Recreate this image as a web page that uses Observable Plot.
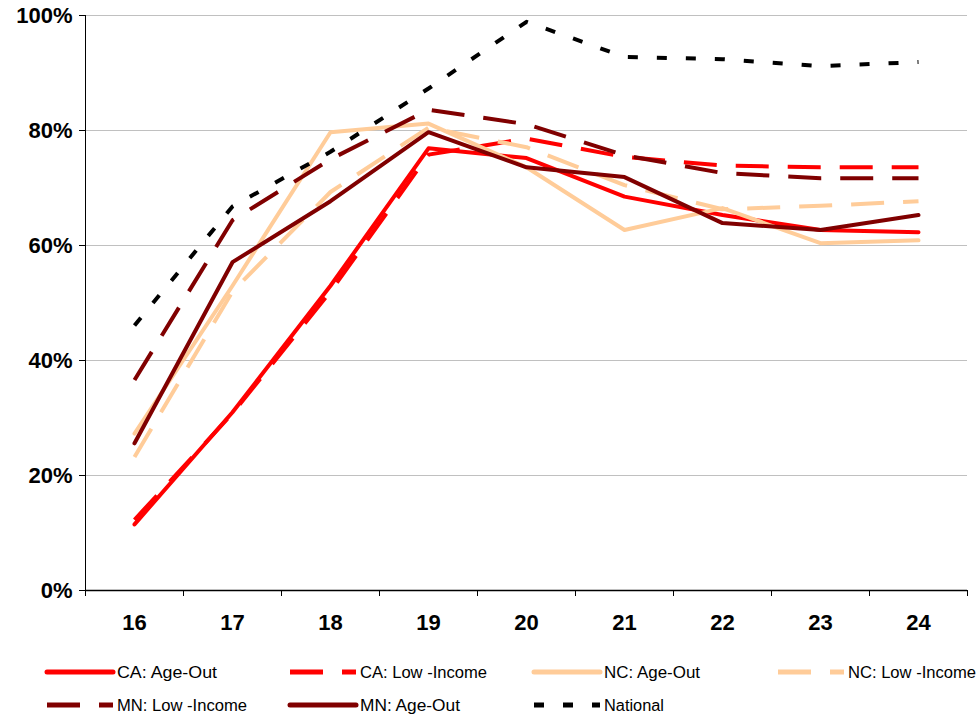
<!DOCTYPE html>
<html>
<head>
<meta charset="utf-8">
<script src="https://cdn.jsdelivr.net/npm/d3@7"></script>
<script src="https://cdn.jsdelivr.net/npm/@observablehq/plot@0.6"></script>
<style>
  html, body { margin: 0; padding: 0; background: #fff; }
  #chart svg { display: block; }
  #legend { display: block; }
</style>
</head>
<body>
<div id="chart"></div>
<svg id="legend" width="978" height="65"></svg>
<script>
// ---- data (percent) ----
const ages = [16, 17, 18, 19, 20, 21, 22, 23, 24];
const caAgeOut   = [11.5, 31.0, 53.0, 76.9, 75.2, 68.5, 65.3, 62.7, 62.3];
const caLowInc   = [12.3, 30.8, 52.0, 75.8, 78.6, 75.4, 73.9, 73.6, 73.6];
const ncAgeOut   = [27.3, 53.0, 79.7, 81.2, 73.6, 62.7, 66.5, 60.4, 60.9];
const ncLowInc   = [23.2, 52.0, 69.3, 80.5, 77.1, 70.5, 66.3, 66.9, 67.7];
const mnLowInc   = [36.6, 64.4, 75.0, 83.6, 81.1, 75.7, 72.6, 71.7, 71.7];
const mnAgeOut   = [25.6, 57.1, 67.7, 79.7, 73.6, 71.9, 63.9, 62.7, 65.3];
const national   = [46.1, 66.8, 76.3, 87.3, 98.9, 92.8, 92.4, 91.2, 91.9];
const yTicks = [0, 0.2, 0.4, 0.6, 0.8, 1.0];
const seriesNames = ["CA: Age-Out", "CA: Low -Income", "NC: Age-Out", "NC: Low -Income", "MN: Low -Income", "MN: Age-Out", "National"];

// ---- styles ----
const styles = {
  "CA: Age-Out":     {stroke: "#ff0000", dash: null},
  "CA: Low -Income": {stroke: "#ff0000", dash: "33 19"},
  "NC: Age-Out":     {stroke: "#ffcc99", dash: null},
  "NC: Low -Income": {stroke: "#ffcc99", dash: "33 19"},
  "MN: Low -Income": {stroke: "#800000", dash: "33 19"},
  "MN: Age-Out":     {stroke: "#800000", dash: null},
  "National":        {stroke: "#000000", dash: "10 19"}
};
const seriesValues = [caAgeOut, caLowInc, ncAgeOut, ncLowInc, mnLowInc, mnAgeOut, national];
const rows = seriesNames.map((name, i) => ages.map((a, j) => ({series: name, age: a, value: seriesValues[i][j] / 100})));

const boundaries = ages.map(a => a - 0.5).concat([ages[ages.length - 1] + 0.5]);

const lineMarks = rows.map((data, i) => {
  const s = styles[seriesNames[i]];
  return Plot.line(data, {
    x: "age", y: "value",
    stroke: s.stroke,
    strokeWidth: 4,
    strokeDasharray: s.dash || undefined,
    strokeLinecap: s.dash ? "butt" : "round",
    strokeLinejoin: "round"
  });
});

const chart = Plot.plot({
  width: 978,
  height: 650,
  marginTop: 15,
  marginBottom: 60,
  marginLeft: 85,
  marginRight: 11,
  style: {fontFamily: "'Liberation Sans', Arial, sans-serif", fontSize: "22px", fontWeight: "bold", color: "#000", background: "#fff"},
  x: {type: "linear", domain: [boundaries[0], boundaries[boundaries.length - 1]]},
  y: {domain: [0, 1]},
  marks: [
    Plot.gridY(yTicks.filter(d => d > 0), {stroke: "#c0c0c0", strokeOpacity: 1, strokeWidth: 1}),
    Plot.axisY(yTicks, {tickFormat: d3.format(".0%"), tickSize: 6, tickPadding: 7, label: null, fontSize: 22, fontWeight: "bold", stroke: "#000"}),
    Plot.axisX(boundaries, {tickFormat: () => "", tickSize: 6, label: null, stroke: "#000"}),
    Plot.axisX(ages, {tickFormat: d => String(d), tickSize: 0, tickPadding: 24, label: null, fontSize: 22, fontWeight: "bold"}),
    Plot.ruleX([boundaries[0]], {stroke: "#000", strokeWidth: 1}),
    Plot.ruleY([0], {stroke: "#000", strokeWidth: 1.5}),
    ...lineMarks
  ]
});
document.getElementById("chart").appendChild(chart);

// ---- legend ----
const legendLayout = {
  cols: [47, 290, 534, 778], rowsY: [22, 55], swatchLen: 66, textGap: 70,
  textWidths: {"CA: Age-Out": 100, "CA: Low -Income": 127, "NC: Age-Out": 96, "NC: Low -Income": 128, "MN: Low -Income": 130, "MN: Age-Out": 100, "National": 60}
};
const legend = d3.select("#legend");
seriesNames.forEach((name, i) => {
  const s = styles[name];
  const col = i % 4, row = Math.floor(i / 4);
  const x0 = legendLayout.cols[col], y0 = legendLayout.rowsY[row];
  legend.append("line")
    .attr("x1", x0).attr("x2", x0 + legendLayout.swatchLen)
    .attr("y1", y0).attr("y2", y0)
    .attr("stroke", s.stroke)
    .attr("stroke-width", 5)
    .attr("stroke-linecap", s.dash ? "butt" : "round")
    .attr("stroke-dasharray", s.dash || null);
  legend.append("text")
    .attr("x", x0 + legendLayout.textGap)
    .attr("y", y0)
    .attr("dy", "0.36em")
    .attr("font-family", "'Liberation Sans', Arial, sans-serif")
    .attr("font-size", 16)
    .attr("fill", "#000")
    .attr("textLength", legendLayout.textWidths[name])
    .attr("lengthAdjust", "spacingAndGlyphs")
    .text(name);
});
</script>
</body>
</html>
